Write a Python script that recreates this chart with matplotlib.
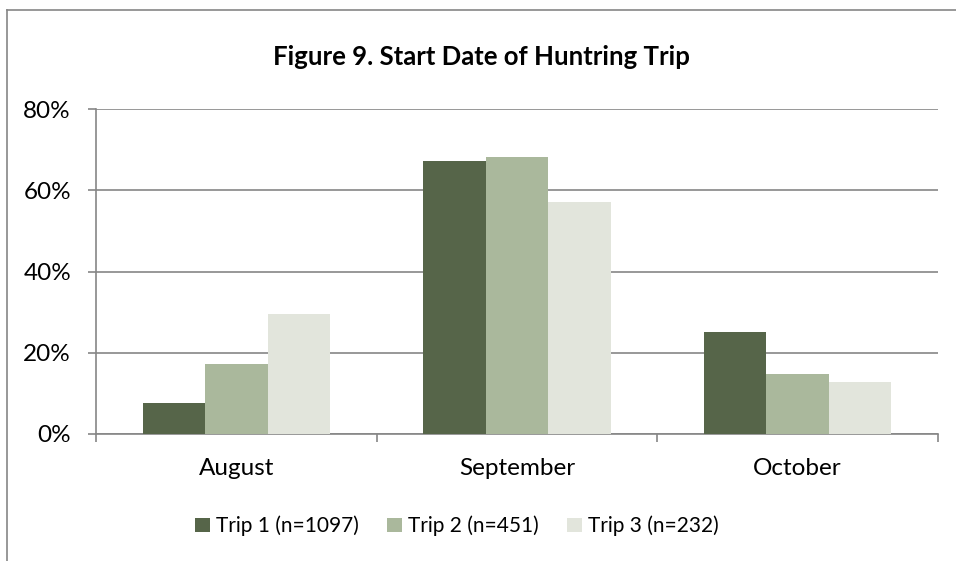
import matplotlib
matplotlib.use("Agg")
import matplotlib.pyplot as plt
import numpy as np
from matplotlib.lines import Line2D
from matplotlib.ticker import FixedLocator, PercentFormatter

months = ["August", "September", "October"]
series = ["Trip 1 (n=1097)", "Trip 2 (n=451)", "Trip 3 (n=232)"]
trip1 = [7.7, 67.2, 25.2]
trip2 = [17.3, 68.2, 14.7]
trip3 = [29.5, 57.1, 12.7]
colors = ["#566549", "#aab89c", "#e2e5dc"]

plt.rcParams["font.family"] = ["Lato", "DejaVu Sans"]
grid_c = "#868686"

fig = plt.figure(figsize=(9.56, 5.61), dpi=100)
ax = fig.add_axes([96 / 956, 1 - 434 / 561, (938 - 96) / 956, (434 - 109) / 561])

x = np.arange(len(months))
w = 1 / 4.5  # Excel gap width 150%
for i, (vals, name) in enumerate(zip([trip1, trip2, trip3], series)):
    ax.bar(x + (i - 1) * w, vals, width=w, color=colors[i], label=name, zorder=3)

ax.set_xlim(-0.5, len(months) - 0.5)
ax.set_ylim(0, 80)
ax.set_yticks([0, 20, 40, 60, 80])
ax.yaxis.set_major_formatter(PercentFormatter(decimals=0))
ax.yaxis.grid(True, color=grid_c, lw=1.2, zorder=0)

ax.set_xticks(x)
ax.set_xticklabels(months)
ax.xaxis.set_minor_locator(FixedLocator(np.arange(len(months) + 1) - 0.5))
ax.tick_params(axis="x", which="major", length=0, pad=17, labelsize=17.5)
ax.tick_params(axis="x", which="minor", length=6, width=1.2, color=grid_c)
ax.tick_params(axis="y", length=6, width=1.2, color=grid_c, labelsize=17.5, pad=12)

for s in ["top", "right"]:
    ax.spines[s].set_visible(False)
for s in ["left", "bottom"]:
    ax.spines[s].set_color(grid_c)
    ax.spines[s].set_linewidth(1.2)

fig.text(481 / 956, 1 - 57 / 561, "Figure 9. Start Date of Huntring Trip",
         ha="center", va="center", fontsize=18.5, fontweight="bold")

fig.legend(loc="center", bbox_to_anchor=(457 / 956, 1 - 526 / 561), ncol=3,
           frameon=False, fontsize=15, handlelength=0.7, handleheight=0.7,
           handletextpad=0.3, columnspacing=1.35)

# chart area border
fig.add_artist(Line2D([7 / 956, 7 / 956], [0, 1 - 10 / 561], color=grid_c, lw=1.2))
fig.add_artist(Line2D([7 / 956, 1], [1 - 10 / 561, 1 - 10 / 561], color=grid_c, lw=1.2))

fig.savefig("out.png", dpi=100)
